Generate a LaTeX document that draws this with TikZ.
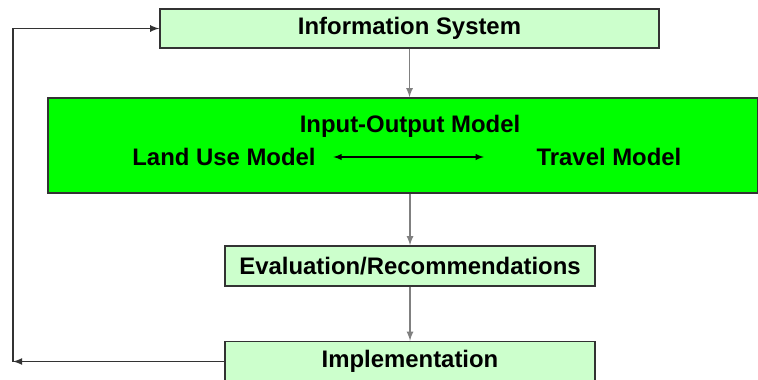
\documentclass[tikz,border=0pt]{standalone}
\usepackage{fontspec}
\setmainfont{Liberation Sans}
\usepackage{tikz}

\definecolor{palegreen}{HTML}{CCFFCC}
\definecolor{brightgreen}{HTML}{00FF00}
\definecolor{boxline}{HTML}{333333}

\begin{document}
\begin{tikzpicture}[
    >=latex,
    stage/.style = {draw = boxline,
      line width = 0.8pt,
      fill = palegreen,
      font = \fontsize{13.6}{16}\selectfont\bfseries,
      inner sep = 0pt},
    model/.style = {draw = boxline,
      line width = 0.8pt,
      fill = brightgreen,
      inner sep = 0pt},
    label/.style = {font = \fontsize{13.6}{16}\selectfont\bfseries,
      inner sep = 0pt},
    flow/.style = {gray, line width = 0.8pt},
    loop/.style = {boxline, line width = 0.8pt},
    ]

    \useasboundingbox (0, 0) rectangle (15.16, 7.58);

    \node at (8.19, 7.01)
    [stage, minimum width = 9.98cm, minimum height = 0.78cm, name = info]
    {Information System};

    \node at (8.06, 4.67)
    [model, minimum width = 14.2cm, minimum height = 1.9cm, name = models] {};

    \node at (8.2, 5.06)
    [label, name = io] {Input-Output Model};
    \node at (4.48, 4.44)
    [label, name = landuse] {Land Use Model};
    \node at (12.18, 4.44)
    [label, name = travel] {Travel Model};

    \node at (8.2, 2.26)
    [stage, minimum width = 7.4cm, minimum height = 0.8cm, name = eval]
    {Evaluation/Recommendations};

    \node at (8.2, 0.35)
    [stage, minimum width = 7.4cm, minimum height = 0.8cm, name = impl]
    {Implementation};

    \coordinate (corner) at (0.26, 0.35);

    \draw [->, flow] (info) to (models.north -| info);
    \draw [->, flow] (models.south -| eval) to (eval);
    \draw [->, flow] (eval) to (impl);

    \draw [<->, black, line width = 0.6pt, shorten < = 0.35cm,
      shorten > = 1.05cm] (landuse) to (travel);

    \draw [->, loop] (impl) to (corner);
    \draw [->, loop] (corner) |- (info);

  \end{tikzpicture}
\end{document}
